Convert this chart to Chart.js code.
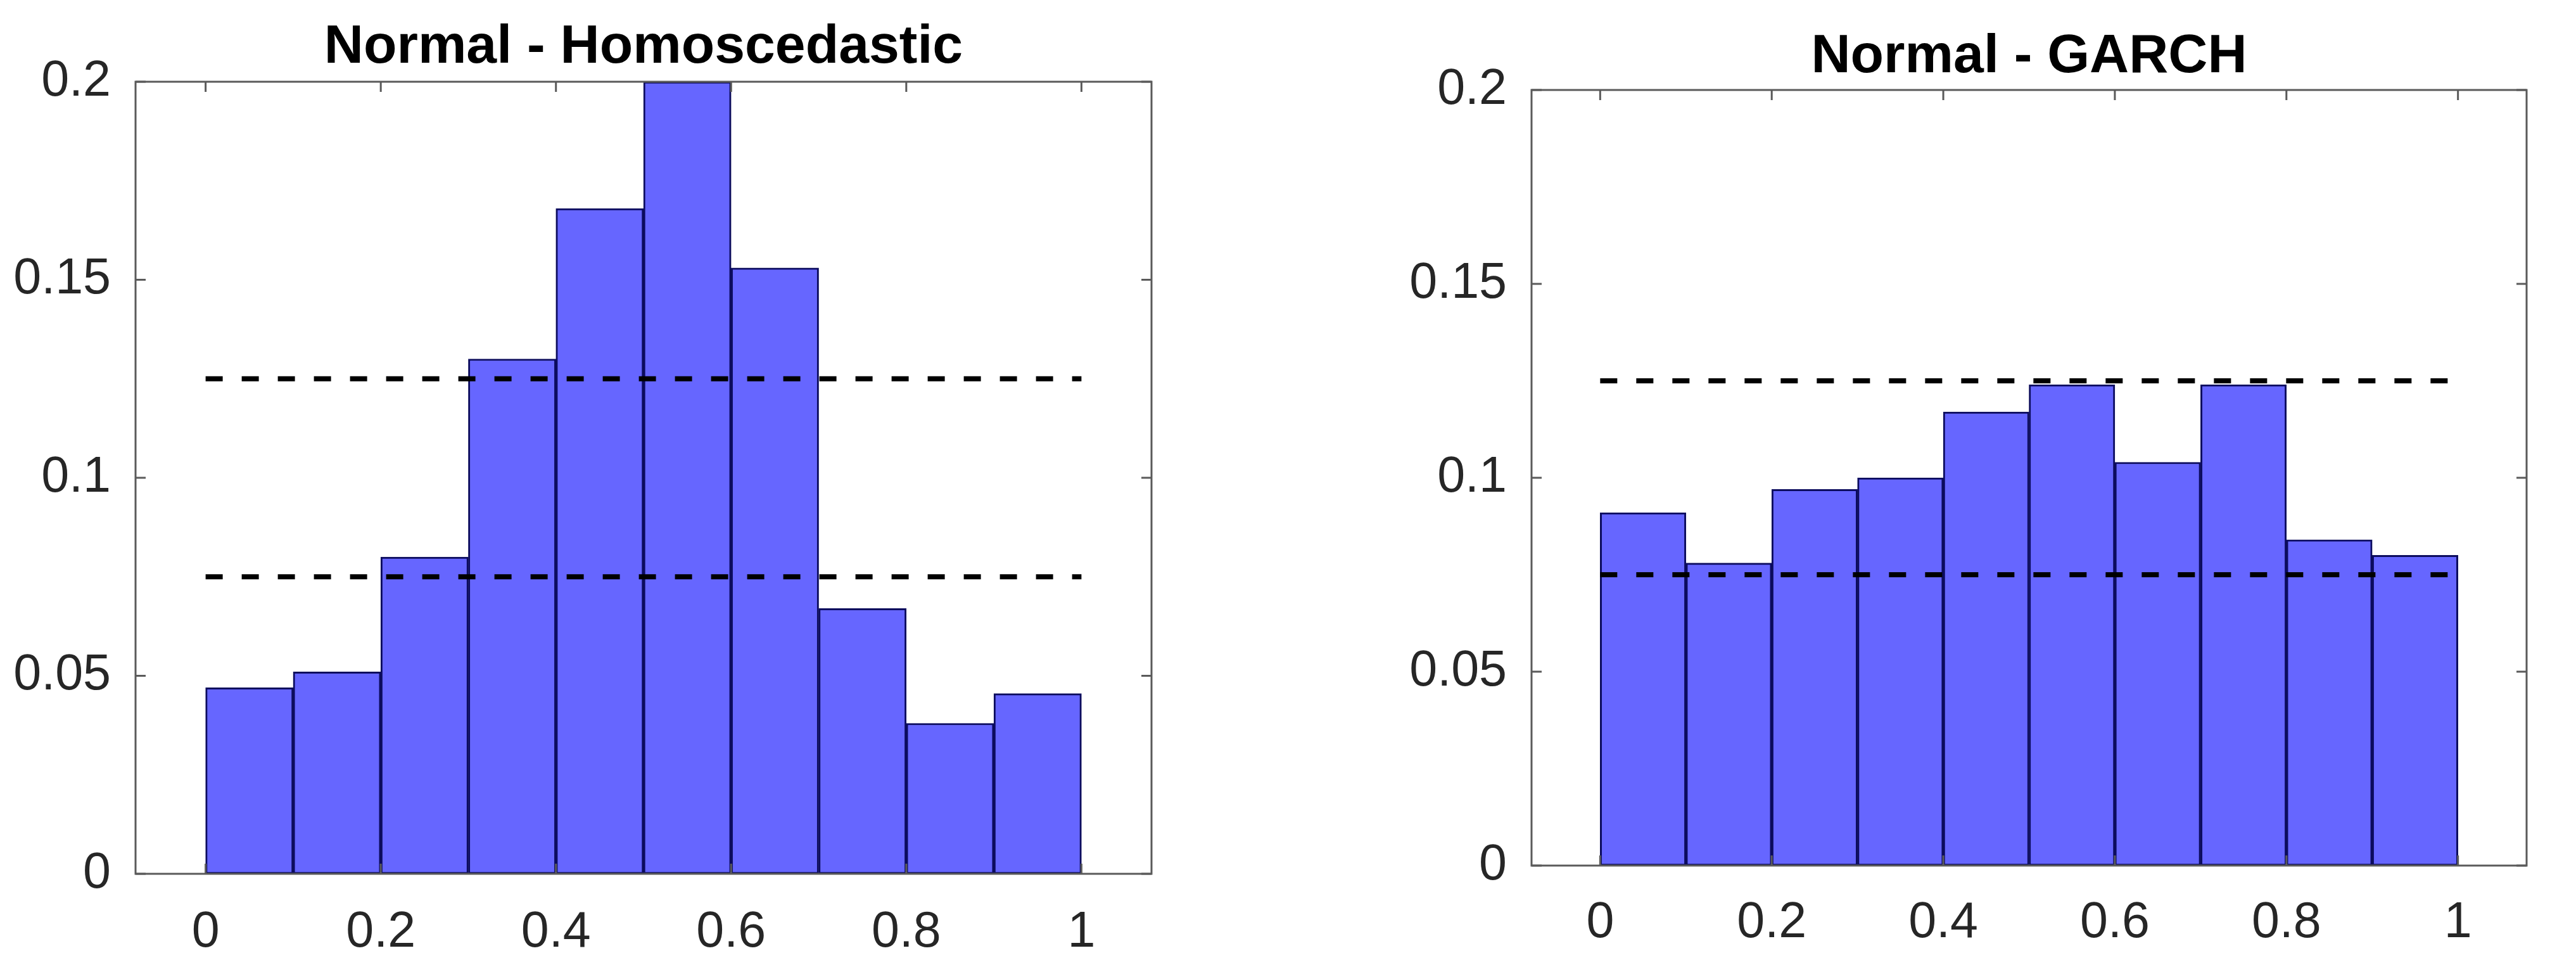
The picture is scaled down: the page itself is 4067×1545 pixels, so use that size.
<!DOCTYPE html>
<html>
<head>
<meta charset="utf-8">
<script src="https://cdn.jsdelivr.net/npm/chart.js@4.4.1/dist/chart.umd.min.js"></script>
<style>
  html, body { margin: 0; padding: 0; background: #ffffff; }
  #page { position: relative; width: 4067px; height: 1545px; overflow: hidden; background: #ffffff; }
  .panel { position: absolute; top: 0; }
</style>
</head>
<body>
<div id="page">
  <div class="panel" style="left:0px;"><canvas id="c1" width="2000" height="1545"></canvas></div>
  <div class="panel" style="left:2100px;"><canvas id="c2" width="1967" height="1545"></canvas></div>
</div>
<script>
// ---- data ----
const binCenters = [0.05, 0.15, 0.25, 0.35, 0.45, 0.55, 0.65, 0.75, 0.85, 0.95];
const homoValues = [0.047, 0.051, 0.080, 0.130, 0.168, 0.200, 0.153, 0.067, 0.038, 0.0455];
const garchValues = [0.091, 0.078, 0.097, 0.100, 0.117, 0.124, 0.104, 0.124, 0.084, 0.080];
const upperBound = 0.125;
const lowerBound = 0.075;
const boundRange = [0, 1];
const xTickValues = [0, 0.2, 0.4, 0.6, 0.8, 1];
const xTickLabels = ['0', '0.2', '0.4', '0.6', '0.8', '1'];
const yTickValues = [0, 0.05, 0.1, 0.15, 0.2];
const yTickLabels = ['0', '0.05', '0.1', '0.15', '0.2'];
const titles = ['Normal - Homoscedastic', 'Normal - GARCH'];

const FONT = "'Liberation Sans', Arial, Helvetica, sans-serif";

const framePlugin = {
  id: 'matlabFrame',
  afterDatasetsDraw(chart) {
    const ctx = chart.ctx;
    const a = chart.chartArea;
    const xs = chart.scales.x, ys = chart.scales.y;
    ctx.save();
    ctx.strokeStyle = '#5a5a5a';
    ctx.lineWidth = 3;
    ctx.strokeRect(a.left, a.top, a.right - a.left, a.bottom - a.top);
    const L = 16;
    ctx.beginPath();
    xs.ticks.forEach(t => {
      const px = xs.getPixelForValue(t.value);
      ctx.moveTo(px, a.bottom); ctx.lineTo(px, a.bottom - L);
      ctx.moveTo(px, a.top); ctx.lineTo(px, a.top + L);
    });
    ys.ticks.forEach(t => {
      const py = ys.getPixelForValue(t.value);
      ctx.moveTo(a.left, py); ctx.lineTo(a.left + L, py);
      ctx.moveTo(a.right, py); ctx.lineTo(a.right - L, py);
    });
    ctx.stroke();
    ctx.restore();
  }
};

function boundLine(v) {
  return {
    type: 'line',
    data: boundRange.map(x => ({ x: x, y: v })),
    borderColor: '#000000',
    borderWidth: 8,
    borderDash: [27, 30],
    pointRadius: 0,
    fill: false,
    order: 1
  };
}

function makeChart(id, title, values, L) {
  return new Chart(document.getElementById(id), {
    type: 'bar',
    data: {
      datasets: [
        {
          type: 'bar',
          data: binCenters.map((c, i) => ({ x: c, y: values[i] })),
          backgroundColor: '#6666ff',
          borderColor: '#0c0c5e',
          borderWidth: 3,
          borderSkipped: false,
          barPercentage: 1.0,
          categoryPercentage: 1.0,
          order: 2
        },
        boundLine(upperBound),
        boundLine(lowerBound)
      ]
    },
    options: {
      responsive: false,
      animation: false,
      devicePixelRatio: 1,
      layout: { padding: { left: 0, right: L.padRight, top: 0, bottom: 0 } },
      plugins: {
        legend: { display: false },
        tooltip: { enabled: false },
        title: {
          display: true,
          fullSize: false,
          text: title,
          color: '#000000',
          font: { family: FONT, size: 86, weight: 'bold', lineHeight: 1.2 },
          padding: { top: L.titleTop, bottom: L.titleBottom }
        }
      },
      scales: {
        x: {
          type: 'linear',
          offset: false,
          min: -0.08,
          max: 1.08,
          grid: { display: false, offset: false },
          border: { display: false },
          afterBuildTicks(axis) { axis.ticks = xTickValues.map(v => ({ value: v })); },
          afterFit(axis) { axis.height = L.xHeight; },
          ticks: {
            autoSkip: false,
            maxRotation: 0,
            padding: L.xPad,
            color: '#262626',
            font: { family: FONT, size: 79 },
            callback: (v, i) => xTickLabels[i]
          }
        },
        y: {
          type: 'linear',
          min: 0,
          max: 0.2,
          grid: { display: false },
          border: { display: false },
          afterBuildTicks(axis) { axis.ticks = yTickValues.map(v => ({ value: v })); },
          afterFit(axis) { axis.width = L.yWidth; },
          ticks: {
            autoSkip: false,
            padding: 31,
            color: '#262626',
            font: { family: FONT, size: 79 },
            callback: (v, i) => yTickLabels[i]
          }
        }
      }
    },
    plugins: [framePlugin]
  });
}

makeChart('c1', titles[0], homoValues, { padRight: 182, titleTop: 24, titleBottom: 1.8, xHeight: 166, yWidth: 214, xPad: 38 });
makeChart('c2', titles[1], garchValues, { padRight: 78, titleTop: 38.8, titleBottom: 0, xHeight: 179, yWidth: 318, xPad: 36 });
</script>
</body>
</html>
